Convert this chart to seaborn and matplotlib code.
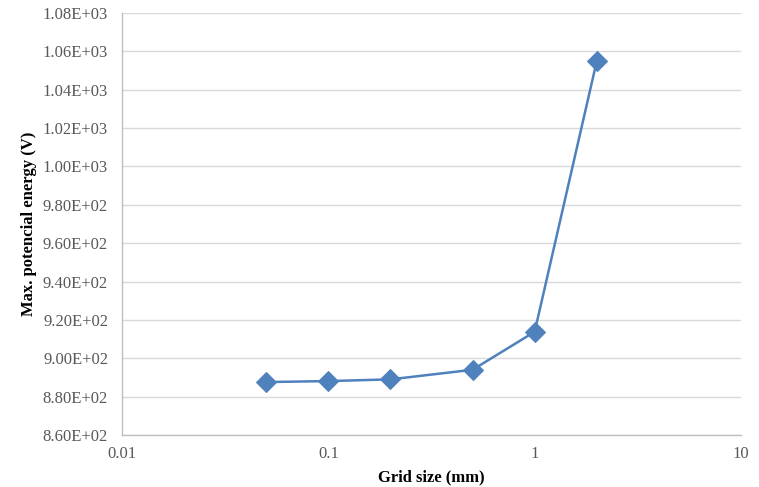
import matplotlib
matplotlib.use("Agg")
import matplotlib.pyplot as plt
import seaborn as sns
import pandas as pd
from matplotlib.ticker import FixedLocator, FuncFormatter, NullLocator

# Mesh convergence: maximum potential energy vs. grid size
grid_size_mm = [0.05, 0.1, 0.2, 0.5, 1.0, 2.0]
max_potential_v = [887.6, 888.1, 889.0, 894.0, 913.8, 1055.0]

y_ticks = [860, 880, 900, 920, 940, 960, 980, 1000, 1020, 1040, 1060, 1080]
x_ticks = [0.01, 0.1, 1, 10]
x_tick_labels = ["0.01", "0.1", "1", "10"]

df = pd.DataFrame({"grid": grid_size_mm, "vmax": max_potential_v})

sns.set_theme(style="white")
plt.rcParams["font.family"] = ["Liberation Serif", "DejaVu Serif"]

fig = plt.figure(figsize=(7.59, 4.87), dpi=100)
ax = fig.add_axes([0.1607, 0.1068, 0.8156, 0.8665])

blue = "#4F81BD"
sns.lineplot(data=df, x="grid", y="vmax", ax=ax, color=blue, linewidth=1.8,
             marker="D", markersize=10, markeredgecolor=blue, markerfacecolor=blue)

ax.set_xscale("log")
ax.set_xlim(0.01, 10)
ax.set_ylim(860, 1080)
ax.xaxis.set_major_locator(FixedLocator(x_ticks))
ax.xaxis.set_minor_locator(NullLocator())
ax.set_xticklabels(x_tick_labels)
ax.yaxis.set_major_locator(FixedLocator(y_ticks))
ax.yaxis.set_major_formatter(FuncFormatter(
    lambda v, p: f"{v/10**2:.2f}E+02" if v < 1000 else f"{v/10**3:.2f}E+03"))

ax.grid(axis="y", color="#D9D9D9", linewidth=1.0)
ax.grid(axis="x", visible=False)
ax.set_axisbelow(True)

for side in ["top", "right"]:
    ax.spines[side].set_visible(False)
for side in ["left", "bottom"]:
    ax.spines[side].set_color("#BFBFBF")
    ax.spines[side].set_linewidth(1.0)

ax.tick_params(axis="both", which="major", length=4, width=1.0, color="#BFBFBF",
               labelsize=12, labelcolor="#595959", direction="out")
ax.tick_params(axis="x", pad=4)
ax.tick_params(axis="y", pad=6)

ax.set_xlabel("Grid size (mm)", fontsize=12, fontweight="bold", color="black", labelpad=5)
ax.set_ylabel("Max. potencial energy (V)", fontsize=12, fontweight="bold", color="black", labelpad=4)

fig.savefig("out.png", dpi=100)
